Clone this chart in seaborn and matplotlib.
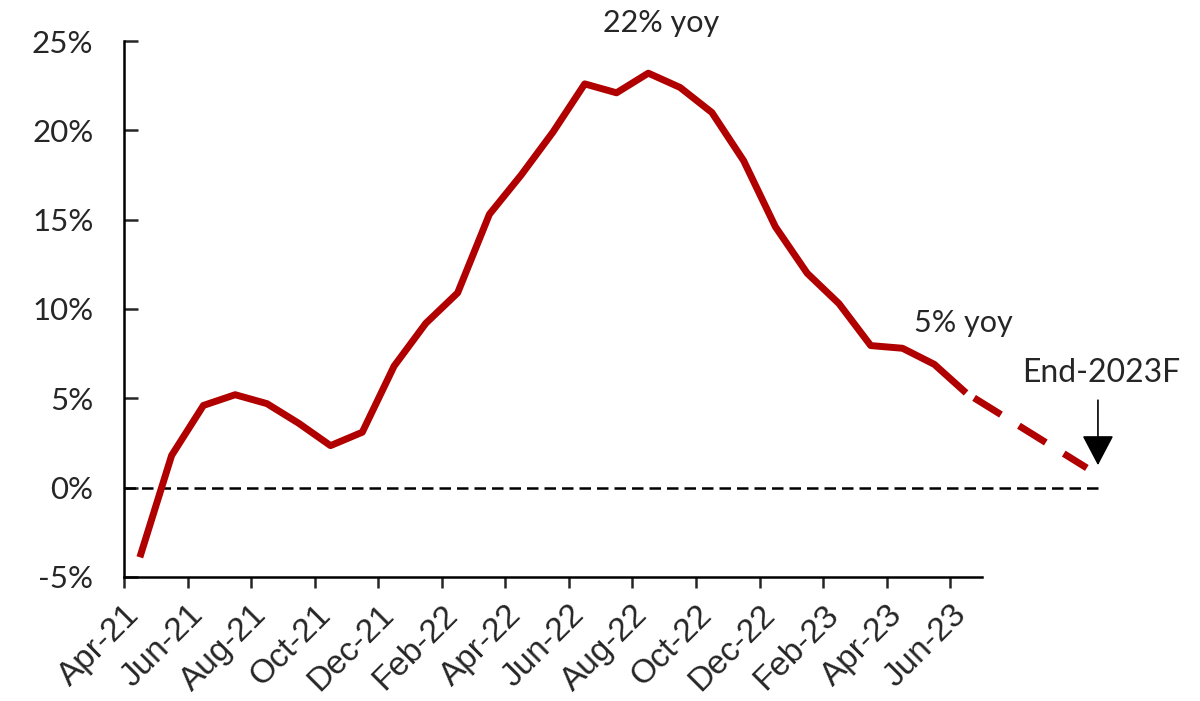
import numpy as np
import matplotlib
matplotlib.use("Agg")
import matplotlib.pyplot as plt
import matplotlib.transforms as mtransforms
import seaborn as sns

# monthly yoy change, Apr-21 .. Jun-23 (mid-month points)
actual_values = [-3.9, 1.8, 4.6, 5.2, 4.7, 3.6, 2.35, 3.1, 6.8, 9.2, 10.9, 15.3,
                 17.5, 19.9, 22.6, 22.1, 23.2, 22.4, 21.0, 18.3, 14.6, 12.0,
                 10.3, 7.95, 7.8, 6.9, 5.3]
# forecast segment: last actual -> end-2023 estimate (month index position)
forecast_x = [26.5, 30.3]
forecast_values = [5.3, 1.1]

tick_labels = ["Apr-21", "Jun-21", "Aug-21", "Oct-21", "Dec-21", "Feb-22",
               "Apr-22", "Jun-22", "Aug-22", "Oct-22", "Dec-22", "Feb-23",
               "Apr-23", "Jun-23"]
y_ticks = [-5, 0, 5, 10, 15, 20, 25]

sns.set_style("ticks")
plt.rcParams["font.family"] = ["Lato", "DejaVu Sans"]

red = "#B00000"

fig = plt.figure(figsize=(12, 7.01), dpi=100)
ax = fig.add_axes([0.1033, 0.177, 0.715, 0.7645])

x_actual = np.arange(len(actual_values)) + 0.5
sns.lineplot(x=x_actual, y=actual_values, ax=ax, color=red, lw=5,
             solid_capstyle="butt", solid_joinstyle="round")
sns.lineplot(x=forecast_x, y=forecast_values, ax=ax, color=red, lw=5,
             clip_on=False)
fc_line = ax.lines[-1]
fc_line.set_linestyle((6.24, (4.56, 3.04)))
fc_line.set_dash_capstyle("butt")

# zero reference line, running past the axis
ax.plot([0, 30.8], [0, 0], color="black", lw=1.8, dashes=(4.6, 2.4),
        clip_on=False, zorder=1)

ax.set_xlim(0, 27)
ax.set_ylim(-5, 25)
ax.set_yticks(y_ticks)
ax.set_yticklabels([f"{v}%" for v in y_ticks], fontsize=22.5)
ax.set_xticks(np.arange(0, 27, 2))
ax.set_xticklabels(tick_labels, rotation=45, ha="right",
                   rotation_mode="anchor", fontsize=24,
                   family=["Liberation Sans", "DejaVu Sans"])
shift = mtransforms.ScaledTranslation(18 / 100, 0, fig.dpi_scale_trans)
for lab in ax.get_xticklabels():
    lab.set_transform(lab.get_transform() + shift)

ax.tick_params(axis="y", direction="in", length=10, width=1.8, pad=22)
ax.tick_params(axis="x", direction="out", length=8, width=1.8, pad=8)
for side in ["top", "right"]:
    ax.spines[side].set_visible(False)
for side in ["left", "bottom"]:
    ax.spines[side].set_linewidth(1.8)
    ax.spines[side].set_color("black")
ax.set_xlabel("")
ax.set_ylabel("")

ax.text(16.9, 26.0, "22% yoy", fontsize=22, ha="center", va="center",
        clip_on=False)
ax.text(26.4, 9.2, "5% yoy", fontsize=22, ha="center", va="center",
        clip_on=False)
ax.text(30.75, 6.4, "End-2023F", fontsize=23, ha="center", va="center",
        clip_on=False)
ax.annotate("", xy=(30.65, 1.1), xytext=(30.65, 5.05),
            arrowprops=dict(arrowstyle="-|>,head_length=0.95,head_width=0.5",
                            color="black", lw=1.2, mutation_scale=20),
            annotation_clip=False)

fig.savefig("out.png", dpi=100)
